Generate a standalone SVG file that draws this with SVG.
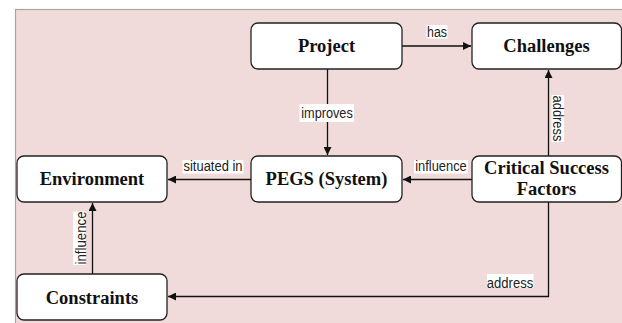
<svg xmlns="http://www.w3.org/2000/svg" width="622" height="323" viewBox="0 0 622 323">
<style>
.node rect{fill:#fff;stroke:#222;stroke-width:1.3}
.node text{font-family:"Liberation Serif","Times New Roman",serif;font-weight:bold;font-size:18.5px;fill:#111;text-anchor:middle}
.edge{fill:none;stroke:#111;stroke-width:1.3}
.lbl{font-family:"Liberation Sans Narrow","Arial Narrow","Liberation Sans",sans-serif;font-size:15.5px;fill:#222;text-anchor:middle}
.lblbg{fill:#fff}
</style>
<defs>
<marker id="arr" viewBox="0 0 10 10" refX="10" refY="5" markerWidth="8" markerHeight="8" markerUnits="userSpaceOnUse" orient="auto">
<path d="M0,0 L10,5 L0,10 z" fill="#111"/>
</marker>
</defs>
<rect x="0" y="0" width="622" height="323" fill="#fff"/>
<rect x="15.5" y="9.5" width="610" height="320" fill="#f0dbda" stroke="#aba4a4" stroke-width="1.2"/>
<g id="connectors">
<line class="edge" x1="402" y1="46" x2="471" y2="46" marker-end="url(#arr)"/>
<line class="edge" x1="327.5" y1="69" x2="327.5" y2="155" marker-end="url(#arr)"/>
<line class="edge" x1="548.5" y1="156" x2="548.5" y2="70" marker-end="url(#arr)"/>
<line class="edge" x1="472" y1="179.5" x2="403" y2="179.5" marker-end="url(#arr)"/>
<line class="edge" x1="251" y1="179.5" x2="168" y2="179.5" marker-end="url(#arr)"/>
<line class="edge" x1="92.5" y1="274" x2="92.5" y2="203" marker-end="url(#arr)"/>
<polyline class="edge" points="548.5,202 548.5,296.5 168,296.5" marker-end="url(#arr)"/>
<rect class="lblbg" x="426.5" y="25" width="21" height="13.5"/>
<text class="lbl" x="437" y="36.5" textLength="20" lengthAdjust="spacingAndGlyphs">has</text>
<rect class="lblbg" x="299.5" y="104" width="54.5" height="18"/>
<text class="lbl" x="327" y="118" textLength="51.5" lengthAdjust="spacingAndGlyphs">improves</text>
<rect class="lblbg" x="182.5" y="160" width="61" height="13.5"/>
<text class="lbl" x="213" y="171" textLength="59" lengthAdjust="spacingAndGlyphs">situated in</text>
<rect class="lblbg" x="414" y="160" width="54" height="13.5"/>
<text class="lbl" x="441" y="171" textLength="51.5" lengthAdjust="spacingAndGlyphs">influence</text>
<rect class="lblbg" x="551.5" y="95" width="12.5" height="47"/>
<text class="lbl" transform="translate(553,118.5) rotate(90)" textLength="46" lengthAdjust="spacingAndGlyphs">address</text>
<rect class="lblbg" x="73" y="211.5" width="12.5" height="53.5"/>
<text class="lbl" transform="translate(85.5,238) rotate(-90)" textLength="53" lengthAdjust="spacingAndGlyphs">influence</text>
<rect class="lblbg" x="487" y="274" width="46.5" height="14"/>
<text class="lbl" x="510" y="287.5" textLength="46.5" lengthAdjust="spacingAndGlyphs">address</text>
</g>
<g id="project" class="node"><rect x="251" y="23" width="151" height="46" rx="7"/><text x="326.5" y="52">Project</text></g>
<g id="challenges" class="node"><rect x="472" y="23" width="149.5" height="46" rx="7"/><text x="546.5" y="52">Challenges</text></g>
<g id="environment" class="node"><rect x="17" y="156" width="150" height="46" rx="7"/><text x="92" y="185">Environment</text></g>
<g id="pegs" class="node"><rect x="251" y="156" width="151" height="46" rx="7"/><text x="326.5" y="185">PEGS (System)</text></g>
<g id="csf" class="node"><rect x="472" y="156" width="149.5" height="46" rx="7"/><text x="546.5" y="173.5">Critical Success</text><text x="546.5" y="195">Factors</text></g>
<g id="constraints" class="node"><rect x="17" y="274" width="150" height="46" rx="7"/><text x="92" y="303.5">Constraints</text></g>
</svg>
